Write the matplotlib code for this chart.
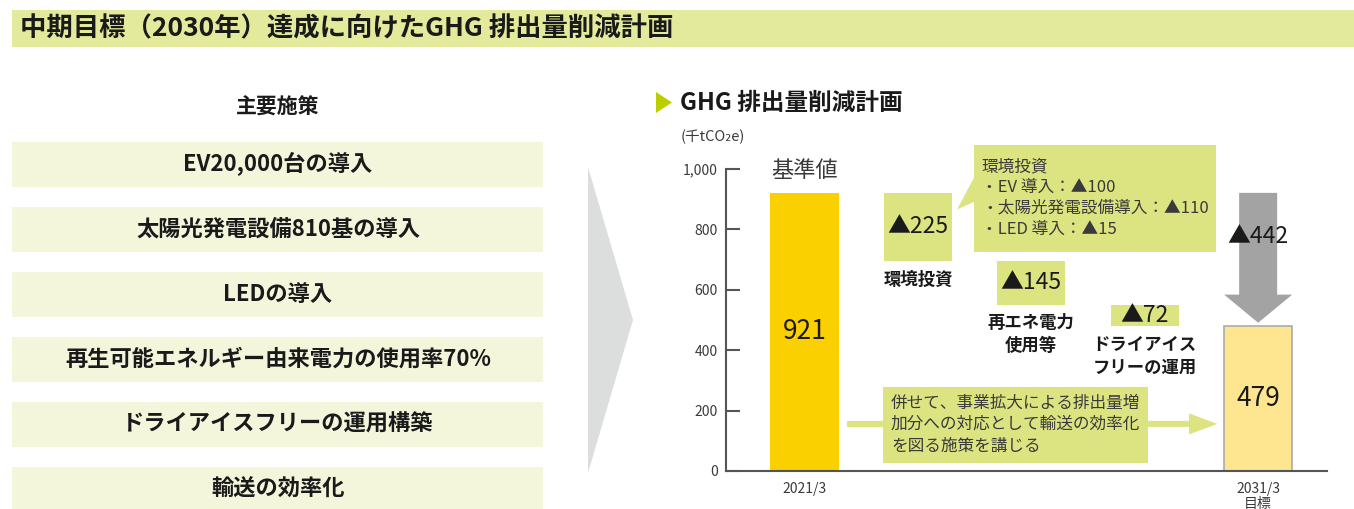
import matplotlib
matplotlib.use('Agg')
import matplotlib.pyplot as plt
from matplotlib.patches import Rectangle, Polygon, FancyArrow
from matplotlib.ticker import FuncFormatter
import numpy as np

plt.rcParams['font.family'] = ['Noto Sans CJK JP', 'DejaVu Sans']

# data
title = '中期目標（2030年）達成に向けたGHG 排出量削減計画'
initiatives = ['EV20,000台の導入', '太陽光発電設備810基の導入', 'LEDの導入',
               '再生可能エネルギー由来電力の使用率70%', 'ドライアイスフリーの運用構築',
               '輸送の効率化']
categories = ['2021/3', '2031/3\n目標']
emissions = [921, 479]
step_labels = ['環境投資', '再エネ電力\n使用等', 'ドライアイス\nフリーの運用']
reductions = [225, 145, 72]
invest_items = ['EV 導入', '太陽光発電設備導入', 'LED 導入']
invest_values = [100, 110, 15]
note = '併せて、事業拡大による排出量増\n加分への対応として輸送の効率化\nを図る施策を講じる'

W, H = 1354, 509
BANNER = '#e3ea9b'
PALE = '#f4f6dc'
GREEN = '#dce481'
DARK = '#1a1a1a'
GREY_TXT = '#3a3a3a'

fig = plt.figure(figsize=(W / 100, H / 100), dpi=100)

# background layer in pixel coords
bg = fig.add_axes([0, 0, 1, 1])
bg.set_xlim(0, W)
bg.set_ylim(H, 0)
bg.axis('off')

bg.add_patch(Rectangle((12, 10), W - 12, 37, color=BANNER, lw=0))
bg.text(20, 29, title, fontsize=19, fontweight='bold', color=DARK, va='center', ha='left')

bg.text(278, 107, '主要施策', fontsize=15, fontweight='bold', color=DARK, ha='center', va='center')
for i, s in enumerate(initiatives):
    top = 142 + i * 65
    bg.add_patch(Rectangle((12, top), 531, 45, color=PALE, lw=0))
    bg.text(278, top + 22.5, s, fontsize=16, fontweight='bold', color=DARK,
            ha='center', va='center')

bg.add_patch(Polygon([(588, 167), (633, 320), (588, 473)], closed=True, color='#dcdddd', lw=0))

bg.add_patch(Polygon([(656, 92), (672, 102.5), (656, 113)], closed=True, color='#bccd00', lw=0))
bg.text(680, 103, 'GHG 排出量削減計画', fontsize=17, fontweight='bold', color=DARK, va='center')
bg.text(681, 137, '(千tCO₂e)', fontsize=10.5, color=GREY_TXT, va='center')

# chart
ax = fig.add_axes([726 / W, (H - 471) / H, (1327 - 726) / W, (471 - 169) / H])
ax.set_facecolor('none')
ax.set_xlim(-0.692, 4.607)
ax.set_ylim(0, 1000)
for s in ['top', 'right']:
    ax.spines[s].set_visible(False)
for s in ['left', 'bottom']:
    ax.spines[s].set_color('#555555')
    ax.spines[s].set_linewidth(1.5)
ax.set_yticks([0, 200, 400, 600, 800, 1000])
ax.yaxis.set_major_formatter(FuncFormatter(lambda v, p: f'{v:,.0f}'))
ax.tick_params(axis='y', direction='in', length=10, width=1.5, color='#555555',
               labelsize=10, labelcolor=GREY_TXT, pad=6)

bar_x = [0, 4]
step_x = np.arange(1, 4)
ax.set_xticks(bar_x)
ax.set_xticklabels(categories)
ax.tick_params(axis='x', length=0, labelsize=10, labelcolor=GREY_TXT, pad=8)
for t in ax.get_xticklabels():
    t.set_linespacing(1.1)

w = 0.6
ax.bar(bar_x[0], emissions[0], width=w, color='#fbd000', lw=0, zorder=2)
ax.bar(bar_x[1], emissions[1], width=w, color='#fde68f', edgecolor='#ababab', lw=1.2, zorder=2)
for x, v in zip(bar_x, emissions):
    ax.text(x, v / 2, f'{v}', fontsize=19, color=DARK, ha='center', va='center', zorder=3)
ax.annotate('基準値', (bar_x[0], emissions[0]), xytext=(0, 8), textcoords='offset points',
            fontsize=16, color=GREY_TXT, ha='center', va='bottom')

# waterfall steps
tops = emissions[0] - np.concatenate([[0], np.cumsum(reductions)[:-1]])
bottoms = tops - np.array(reductions)
ax.bar(step_x, reductions, bottom=bottoms, width=w, color=GREEN, lw=0, zorder=2)
for x, t, b, r, lab in zip(step_x, tops, bottoms, reductions, step_labels):
    ax.text(x, (t + b) / 2, f'▲{r}', fontsize=16.5, color=DARK, ha='center', va='center', zorder=3)
    ax.annotate(lab, (x, b), xytext=(0, -7), textcoords='offset points', fontsize=12.5,
                fontweight='bold', color=DARK, ha='center', va='top', linespacing=1.35,
                annotation_clip=False)

# breakdown callout
ax.add_patch(Rectangle((1.495, 726), 2.134, 352, color=GREEN, lw=0, clip_on=False, zorder=2))
ax.add_patch(Polygon([(1.345, 866), (1.50, 975), (1.50, 892)], closed=True, color=GREEN,
                     lw=0, clip_on=False, zorder=2))
lines = ['環境投資'] + [f'・{n}：▲{v}' for n, v in zip(invest_items, invest_values)]
ax.text(1.56, 904, '\n'.join(lines), fontsize=12, color=GREY_TXT, ha='left', va='center',
        linespacing=1.28, zorder=3)

# total reduction arrow
total = emissions[0] - emissions[1]
ax.add_patch(FancyArrow(bar_x[1], emissions[0], 0, -(total - 12), width=0.335, head_width=0.6,
                        head_length=93, length_includes_head=True, color='#a3a3a3', lw=0,
                        zorder=2))
ax.text(bar_x[1], 776, f'▲{total}', fontsize=16.5, color=DARK, ha='center', va='center', zorder=3)

# note box with arrow
ax.plot([0.374, 0.692], [156, 156], color=GREEN, lw=4.5, solid_capstyle='butt', zorder=2)
ax.add_patch(Rectangle((0.692, 27), 2.337, 252, color=GREEN, lw=0, zorder=2))
ax.add_patch(FancyArrow(3.02, 156, 0.62, 0, width=20, head_width=70, head_length=0.25,
                        length_includes_head=True, color=GREEN, lw=0, zorder=2))
ax.text(0.763, 154, note, fontsize=12, color=GREY_TXT, ha='left', va='center',
        linespacing=1.35, zorder=3)

fig.savefig('out.png', dpi=100)
